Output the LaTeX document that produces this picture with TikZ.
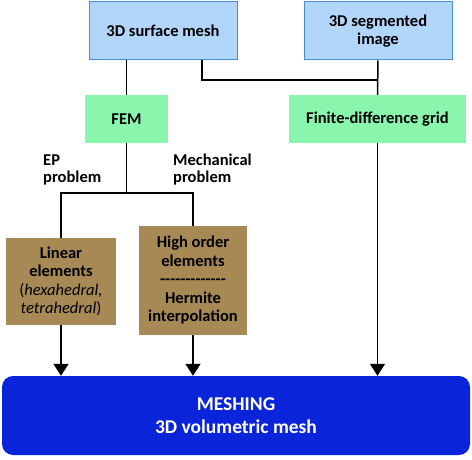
\documentclass[tikz,border=0pt]{standalone}
\usepackage{fontspec}
\setmainfont{Carlito}
\usetikzlibrary{arrows.meta}
\definecolor{inblue}{RGB}{178,214,250}
\definecolor{inborder}{RGB}{72,140,222}
\definecolor{stepgreen}{RGB}{138,245,172}
\definecolor{elembrown}{RGB}{166,137,84}
\definecolor{meshblue}{RGB}{10,36,218}
\newcommand{\hyphenrow}{-{}-{}-{}-{}-{}-{}-{}-{}-{}-{}-{}-{}-}
\tikzset{
    block/.style={rectangle,align=center,inner sep=2pt,
        font=\fontsize{16.5}{18.5}\selectfont\bfseries},
    input/.style={block,draw=inborder,line width=1pt,fill=inblue,
        minimum width=148,minimum height=58},
    method/.style={block,fill=stepgreen,minimum height=48},
    element/.style={block,fill=elembrown},
    result/.style={block,fill=meshblue,text=white,rounded corners=11pt,
        minimum width=468,minimum height=79,
        font=\fontsize{19.5}{23}\selectfont\bfseries},
    problabel/.style={rectangle,align=left,anchor=west,inner sep=0pt,
        font=\fontsize{16.5}{17}\selectfont\bfseries},
    wire/.style={line width=1.5pt},
    directed/.style={wire,arrows={-Triangle[width=15pt,length=12pt]}},
    }
\begin{document}
\begin{tikzpicture}[x=1pt,y=-1pt]
    \useasboundingbox (0,0) rectangle (472,460);

    \node[input] (surf) at (163,31) {3D surface mesh};
    \node[input] (seg) at (378,31) {3D segmented\\image};
    \node[method,minimum width=83] (fem) at (126.5,119) {FEM};
    \node[method,minimum width=177] (fdg) at (377.5,119) {Finite-difference grid};
    \node[element,minimum width=110,minimum height=87] (lin) at (61,281.5)
        {Linear\\elements\\\mdseries(\textit{hexahedral,}\\\mdseries\textit{tetrahedral})};
    \node[element,minimum width=108,minimum height=109] (high) at (193,280.5)
        {High order\\elements\\\hyphenrow\\Hermite\\interpolation};
    \node[result] (mesh) at (236,415.5) {MESHING\\3D volumetric mesh};

    \node[problabel] (ep) at (43,170) {EP\\problem};
    \node[problabel] (mech) at (173,170) {Mechanical\\problem};

    \coordinate (join) at (202,80);
    \coordinate (split) at (126.5,193);

    \draw[wire] (surf.south -| fem) to (fem.north);
    \draw[wire] (surf.south -| join) -- (join) -- (join -| seg);
    \draw[wire] (seg.south) to (fdg.north);
    \draw[wire] (fem.south) to (split);
    \draw[wire] (lin.north) |- (split) -| (high.north);

    \draw[directed] (lin.south) to (lin.south |- mesh.north);
    \draw[directed] (high.south) to (high.south |- mesh.north);
    \draw[directed] (fdg.south) to (fdg.south |- mesh.north);
\end{tikzpicture}
\end{document}
